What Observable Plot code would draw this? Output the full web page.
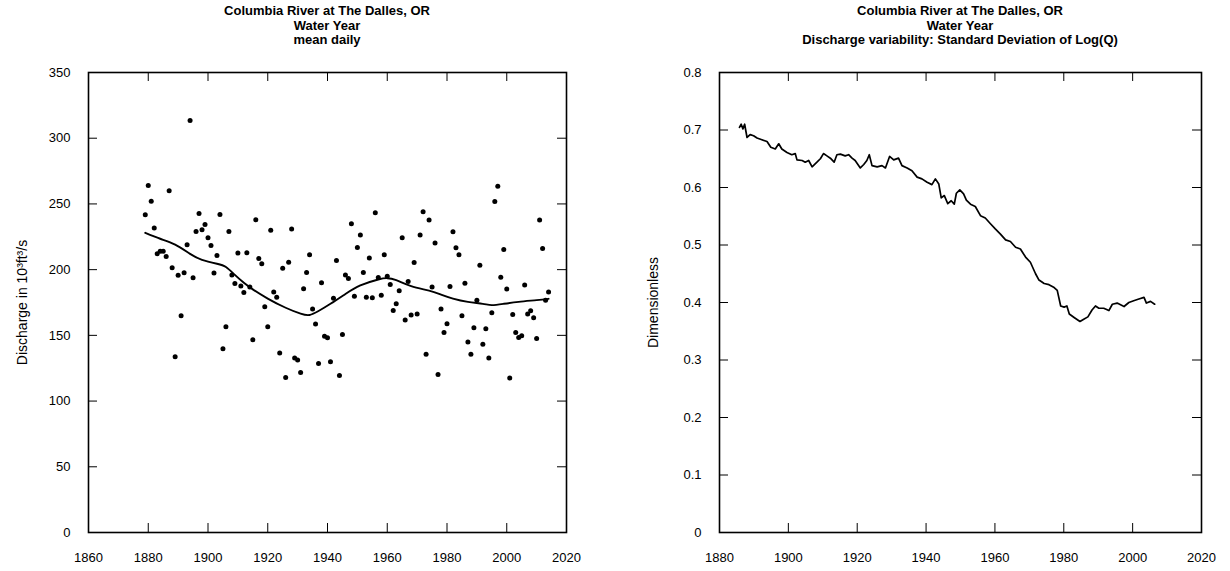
<!DOCTYPE html>
<html><head><meta charset="utf-8">
<script src="https://cdn.jsdelivr.net/npm/d3@7"></script>
<script src="https://cdn.jsdelivr.net/npm/@observablehq/plot@0.6"></script>
<style>
body{margin:0;background:#fff;font-family:"Liberation Sans",Arial,Helvetica,sans-serif;}
#wrap{position:relative;width:1230px;height:571px;overflow:hidden;}
.panel{position:absolute;top:0;width:615px;height:571px;}
.title{position:absolute;top:4px;text-align:center;font-weight:bold;font-size:13px;line-height:14.5px;color:#000;}
</style></head><body><div id="wrap"></div>
<script>
// ---- Left panel data: annual mean daily discharge (10^3 ft^3/s) ----
const waterYears = [1879,1880,1881,1882,1883,1884,1885,1886,1887,1888,1889,1890,1891,1892,1893,1894,1895,1896,1897,1898,1899,
1900,1901,1902,1903,1904,1905,1906,1907,1908,1909,1910,1911,1912,1913,1914,1915,1916,1917,1918,1919,
1920,1921,1922,1923,1924,1925,1926,1927,1928,1929,1930,1931,1932,1933,1934,1935,1936,1937,1938,1939,
1940,1941,1942,1943,1944,1945,1946,1947,1948,1949,1950,1951,1952,1953,1954,1955,1956,1957,1958,1959,
1960,1961,1962,1963,1964,1965,1966,1967,1968,1969,1970,1971,1972,1973,1974,1975,1976,1977,1978,1979,
1980,1981,1982,1983,1984,1985,1986,1987,1988,1989,1990,1991,1992,1993,1994,1995,1996,1997,1998,1999,
2000,2001,2002,2003,2004,2005,2006,2007,2008,2009,2010,2011,2012,2013,2014];
const meanDaily = [241.7,264,252,231.6,212,214,214,210,260,201.4,133.7,195.8,165,197.6,219,313.5,193.8,229,242.7,230.3,234.4,
224.2,218.4,197.4,210.8,242,139.8,156.5,229,196,189.5,212.6,187.5,182.6,212.8,186.7,146.6,238,208.5,204.4,171.7,
156.5,230,182.9,179,136.5,201,118,205.7,231,132.7,131.2,121.7,185.4,197.8,211.3,170,158.6,128.6,190,149.4,
148.1,129.9,178.3,207,119.5,150.7,196,193.3,235,179.8,216.9,226.3,197.8,179,208.8,178.6,243.3,194,180.6,211.3,
195,188.7,169,174,183.9,224.2,161.6,191,165.4,205.5,166.2,226.3,244,135.7,237.7,186.7,220.2,120.2,170,152.2,
158.8,187.2,228.8,216.6,211.3,164.9,189.7,144.9,135.7,155.7,176.8,203.4,143.3,155,132.7,167.2,251.9,263.5,194.3,215.4,
185.2,117.5,165.9,152.2,148.4,149.7,188.3,166.2,168.7,163.4,147.6,237.7,216.1,176.8,182.9];
// smooth curve
const smoothYears = [1879,1884,1889,1894,1898,1903,1906,1909,1912,1915,1920,1926,1931,1934,1937,1941,1946,1951,1957,1960,1963,1968,1974,1978,1982,1987,1992,1995,1999,2004,2010,2014];
const smoothValues = [228,223.5,219,212,207.5,204.5,202,196,190,185,178,171,166.5,165.5,168.5,174,181.5,188,192.5,193.5,192,187.5,184,181,178,175.5,174,173,174,175.5,176.8,177.8];

// ---- Right panel data: standard deviation of log(Q) ----
const sdYears = [1885.8,1886.3,1886.8,1887.3,1888.0,1888.9,1889.9,1890.9,1892.3,1893.8,1894.9,1896.2,1897.2,1898.1,1899.6,
1901.0,1902.0,1902.5,1904.0,1904.9,1905.9,1906.9,1908.3,1909.3,1910.2,1911.2,1912.2,1913.3,1914.1,1915.1,1916.5,1917.5,1918.5,1919.4,
1920.9,1921.9,1922.8,1923.5,1924.3,1925.8,1927.2,1928.2,1929.4,1930.6,1932.0,1933.0,1934.5,1935.9,1937.4,1938.8,
1940.3,1941.7,1942.7,1943.7,1944.4,1945.3,1946.3,1947.3,1948.2,1948.8,1949.8,1950.9,1951.7,1952.9,1954.3,1955.8,1957.2,1958.7,
1960.1,1961.6,1963.1,1964.5,1966.0,1967.4,1968.9,1970.3,1971.8,1972.8,1974.3,1975.7,1977.2,1978.1,1979.1,
1980.1,1980.9,1981.6,1983.0,1984.7,1985.8,1987.0,1988.2,1989.2,1990.2,1991.6,1993.1,1994.1,1995.5,1997.5,1998.9,
2000.3,2001.8,2003.3,2004.0,2005.2,2006.4];
const sdValues = [0.7045,0.710,0.702,0.710,0.687,0.692,0.690,0.686,0.683,0.680,0.670,0.667,0.676,0.667,0.661,
0.657,0.659,0.648,0.647,0.644,0.647,0.636,0.644,0.650,0.659,0.655,0.651,0.644,0.657,0.658,0.655,0.657,0.651,0.647,
0.634,0.640,0.647,0.657,0.638,0.636,0.638,0.634,0.654,0.648,0.651,0.638,0.634,0.629,0.618,0.615,
0.609,0.605,0.615,0.606,0.582,0.586,0.572,0.577,0.571,0.590,0.596,0.589,0.578,0.571,0.567,0.551,0.547,0.537,
0.528,0.519,0.509,0.506,0.496,0.493,0.479,0.470,0.450,0.439,0.433,0.431,0.426,0.421,0.394,
0.392,0.394,0.380,0.374,0.367,0.371,0.375,0.387,0.394,0.390,0.390,0.386,0.397,0.399,0.393,0.400,
0.403,0.406,0.409,0.399,0.402,0.397];

// ---- Axis ticks and texts ----
const leftXTicks = [1860,1880,1900,1920,1940,1960,1980,2000,2020];
const leftYTicks = [0,50,100,150,200,250,300,350];
const rightXTicks = [1880,1900,1920,1940,1960,1980,2000,2020];
const rightYTicks = [0,0.1,0.2,0.3,0.4,0.5,0.6,0.7,0.8];
const leftTitle = ["Columbia River at The Dalles, OR","Water Year","mean daily"];
const rightTitle = ["Columbia River at The Dalles, OR","Water Year","Discharge variability: Standard Deviation of Log(Q)"];
const leftYLabel = "Discharge in 10³ft³/s";
const rightYLabel = "Dimensionless";

const scatter = waterYears.map((y,i)=>({year:y, q:meanDaily[i]}));
const smooth = smoothYears.map((y,i)=>({year:y, q:smoothValues[i]}));
const sdSeries = sdYears.map((y,i)=>({year:y, sd:sdValues[i]}));

const W = 615, H = 571, MT = 72, MB = 39, TK = 9;
const FONT = '"Liberation Sans", Arial, Helvetica, sans-serif';

function framedTicks(fw, fh, xt, yt) {
  return [
    Plot.tickX(xt, {x: d=>d, insetTop: fh - TK, stroke:"#000", strokeWidth:1}),
    Plot.tickX(xt, {x: d=>d, insetBottom: fh - TK, stroke:"#000", strokeWidth:1}),
    Plot.tickY(yt, {y: d=>d, insetRight: fw - TK, stroke:"#000", strokeWidth:1}),
    Plot.tickY(yt, {y: d=>d, insetLeft: fw - TK, stroke:"#000", strokeWidth:1})
  ];
}

function panel(opts) {
  const fw = W - opts.ml - opts.mr, fh = H - MT - MB;
  return Plot.plot({
    width: W, height: H, marginTop: MT, marginBottom: MB, marginLeft: opts.ml, marginRight: opts.mr,
    style: {fontFamily: FONT, fontSize: "13px", color: "#000", background: "transparent", overflow: "visible"},
    x: {domain: opts.xd},
    y: {domain: opts.yd},
    marks: [
      ...framedTicks(fw, fh, opts.xt, opts.yt),
      Plot.axisX(opts.xt, {tickSize: 0, tickPadding: 20, tickFormat: d => String(d), label: null, fontSize: 13}),
      Plot.axisY(opts.yt, {tickSize: 0, tickPadding: 18, tickFormat: opts.yf, label: null, fontSize: 13}),
      Plot.text([opts.ylabel], {frameAnchor: "left", textAnchor: "middle", dx: opts.ldx, rotate: -90, text: d => d, fontSize: 14, fill: "#000"}),
      ...opts.marks,
      Plot.frame({stroke: "#000", strokeWidth: 1.6})
    ]
  });
}

const leftPlot = panel({
  ml: 88, mr: 49, xd: [1860, 2020], yd: [0, 350], xt: leftXTicks, yt: leftYTicks,
  yf: d => String(d), ylabel: leftYLabel, ldx: -66,
  marks: [
    Plot.dot(scatter, {x: "year", y: "q", r: 2.5, fill: "#000", stroke: "none"}),
    Plot.line(smooth, {x: "year", y: "q", stroke: "#000", strokeWidth: 1.9, curve: "natural"})
  ]
});
const rightPlot = panel({
  ml: 104, mr: 29, xd: [1880, 2020], yd: [0, 0.8], xt: rightXTicks, yt: rightYTicks,
  yf: d => d === 0 ? "0" : d.toFixed(1), ylabel: rightYLabel, ldx: -66,
  marks: [
    Plot.line(sdSeries, {x: "year", y: "sd", stroke: "#000", strokeWidth: 1.7})
  ]
});

const wrap = document.getElementById("wrap");
function addPanel(svg, left, title, ml, mr) {
  const p = document.createElement("div");
  p.className = "panel"; p.style.left = left + "px";
  p.appendChild(svg);
  const t = document.createElement("div");
  t.className = "title";
  t.style.left = ml + "px"; t.style.width = (W - ml - mr) + "px";
  title.forEach(s => { const d = document.createElement("div"); d.textContent = s; t.appendChild(d); });
  p.appendChild(t);
  wrap.appendChild(p);
}
addPanel(leftPlot, 0, leftTitle, 88, 49);
addPanel(rightPlot, 615, rightTitle, 104, 29);
</script>
</body></html>
